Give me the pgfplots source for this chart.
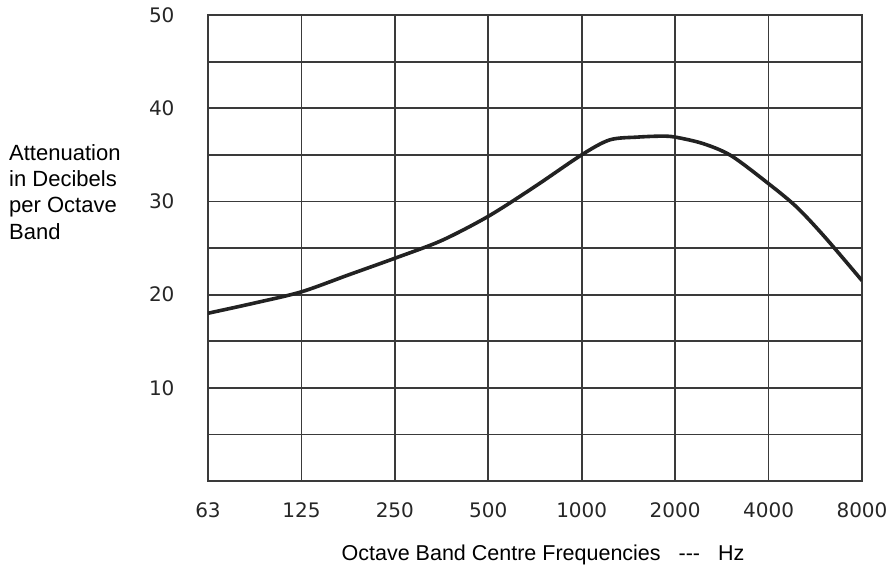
\documentclass[border=0pt]{standalone}
\usepackage{pgfplots}
\pgfplotsset{compat=1.18}
\usepackage{fontspec}
\setmainfont{Liberation Sans}
\newfontfamily\tickfont{DejaVu Sans}
\definecolor{gridc}{HTML}{3A3A3A}
\definecolor{curvec}{HTML}{222222}
\begin{document}
\begin{tikzpicture}[x=1pt,y=1pt]
\path[use as bounding box] (0,0) rectangle (896,568);
\begin{axis}[
  at={(208pt,87pt)}, anchor=south west,
  scale only axis, width=654pt, height=466pt,
  xmin=0, xmax=7, ymin=0, ymax=50,
  xtick={0,1,2,3,4,5,6,7},
  xticklabels={63,125,250,500,1000,2000,4000,8000},
  ytick={10,20,30,40,50},
  minor ytick={5,15,25,35,45},
  grid=both,
  major grid style={gridc, line width=1.8pt},
  minor grid style={gridc, line width=1.8pt},
  axis line style={gridc, line width=1.8pt},
  tick style={draw=none},
  /pgf/number format/assume math mode=true,
  ticklabel style={font=\tickfont\fontsize{20}{22}\selectfont, text=black!85},
  xticklabel style={anchor=north, yshift=-18pt},
  yticklabel style={anchor=east, xshift=-30pt},
  xlabel={Octave Band Centre Frequencies\ \ \ {-}{-}{-}\ \ \ Hz},
  xlabel style={font=\fontsize{21.5}{22}\selectfont, anchor=north, yshift=-20pt, xshift=8pt},
]
\addplot[curvec, line width=3.6pt, smooth, tension=0.5] coordinates {
(0,18.0) (0.5,19.1) (1,20.3) (1.5,22.1) (2,23.9) (2.5,25.8) (3,28.4) (3.5,31.6)
(4,35.0) (4.3,36.6) (4.6,36.9) (4.85,37.0) (5,36.9) (5.3,36.2) (5.6,34.9)
(6,31.9) (6.3,29.4) (6.6,26.2) (7,21.5)
};
\end{axis}
\node[anchor=north west, align=left, inner sep=0pt, font=\fontsize{22}{26.3}\selectfont] at (9,568-144) {Attenuation\\in Decibels\\per Octave\\Band};
\end{tikzpicture}
\end{document}
